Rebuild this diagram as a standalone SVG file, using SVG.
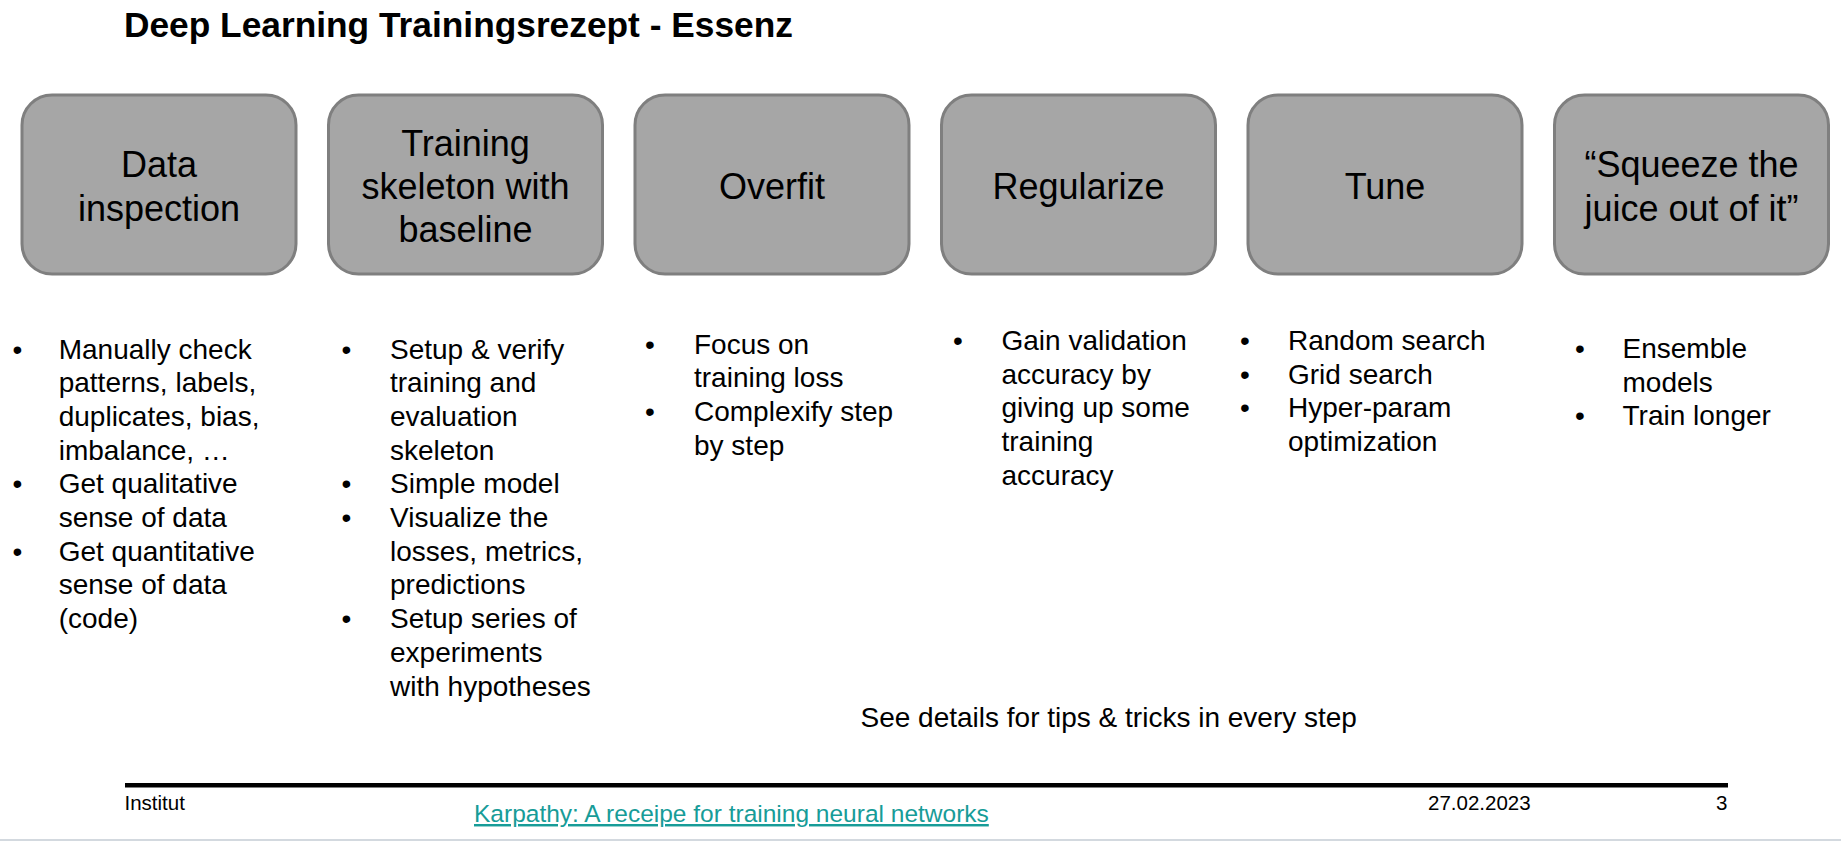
<svg xmlns="http://www.w3.org/2000/svg" width="1841" height="841" viewBox="0 0 1841 841">
<style>
text{font-family:"Liberation Sans",Arial,Helvetica,sans-serif;fill:#000}
.title{font-size:35.3px;font-weight:bold}
.box{fill:#a6a6a6;stroke:#7f7f7f;stroke-width:3}
.bl{font-size:36px;text-anchor:middle}
.bt{font-size:28px}
.bu{font-size:28px;text-anchor:middle}
.ft{font-size:20.5px}
.lnk{font-size:24.5px;fill:#179c98;text-decoration:underline}
</style>
<rect width="1841" height="841" fill="#ffffff"/>
<text class="title" x="124" y="37">Deep Learning Trainingsrezept - Essenz</text>

<g id="node-data-inspection">
<rect class="box" x="22" y="95" width="274" height="179" rx="30" ry="30"/>
<text class="bl" x="159" y="177.4">Data</text>
<text class="bl" x="159" y="220.6">inspection</text>
</g>
<g id="node-training-skeleton">
<rect class="box" x="328.5" y="95" width="274" height="179" rx="30" ry="30"/>
<text class="bl" x="465.5" y="155.8">Training</text>
<text class="bl" x="465.5" y="199">skeleton with</text>
<text class="bl" x="465.5" y="242.2">baseline</text>
</g>
<g id="node-overfit">
<rect class="box" x="635" y="95" width="274" height="179" rx="30" ry="30"/>
<text class="bl" x="772" y="199">Overfit</text>
</g>
<g id="node-regularize">
<rect class="box" x="941.5" y="95" width="274" height="179" rx="30" ry="30"/>
<text class="bl" x="1078.5" y="199">Regularize</text>
</g>
<g id="node-tune">
<rect class="box" x="1248" y="95" width="274" height="179" rx="30" ry="30"/>
<text class="bl" x="1385" y="199">Tune</text>
</g>
<g id="node-squeeze">
<rect class="box" x="1554.5" y="95" width="274" height="179" rx="30" ry="30"/>
<text class="bl" x="1691.5" y="177.4">“Squeeze the</text>
<text class="bl" x="1691.5" y="220.6">juice out of it”</text>
</g>

<g id="connectors"></g>

<g id="list-data-inspection">
<text class="bu" x="17.5" y="358.5">•</text>
<text class="bt" x="58.7" y="358.5">Manually check</text>
<text class="bt" x="58.7" y="392.2">patterns, labels,</text>
<text class="bt" x="58.7" y="425.9">duplicates, bias,</text>
<text class="bt" x="58.7" y="459.6">imbalance, …</text>
<text class="bu" x="17.5" y="493.3">•</text>
<text class="bt" x="58.7" y="493.3">Get qualitative</text>
<text class="bt" x="58.7" y="527">sense of data</text>
<text class="bu" x="17.5" y="560.7">•</text>
<text class="bt" x="58.7" y="560.7">Get quantitative</text>
<text class="bt" x="58.7" y="594.4">sense of data</text>
<text class="bt" x="58.7" y="628.1">(code)</text>
</g>

<g id="list-training-skeleton">
<text class="bu" x="346.5" y="358.5">•</text>
<text class="bt" x="390" y="358.5">Setup &amp; verify</text>
<text class="bt" x="390" y="392.2">training and</text>
<text class="bt" x="390" y="425.9">evaluation</text>
<text class="bt" x="390" y="459.6">skeleton</text>
<text class="bu" x="346.5" y="493.3">•</text>
<text class="bt" x="390" y="493.3">Simple model</text>
<text class="bu" x="346.5" y="527">•</text>
<text class="bt" x="390" y="527">Visualize the</text>
<text class="bt" x="390" y="560.7">losses, metrics,</text>
<text class="bt" x="390" y="594.4">predictions</text>
<text class="bu" x="346.5" y="628.1">•</text>
<text class="bt" x="390" y="628.1">Setup series of</text>
<text class="bt" x="390" y="661.8">experiments</text>
<text class="bt" x="390" y="695.5">with hypotheses</text>
</g>

<g id="list-overfit">
<text class="bu" x="650" y="353.5">•</text>
<text class="bt" x="694" y="353.5">Focus on</text>
<text class="bt" x="694" y="387.2">training loss</text>
<text class="bu" x="650" y="420.9">•</text>
<text class="bt" x="694" y="420.9">Complexify step</text>
<text class="bt" x="694" y="454.6">by step</text>
</g>

<g id="list-regularize">
<text class="bu" x="958" y="350">•</text>
<text class="bt" x="1001.5" y="350">Gain validation</text>
<text class="bt" x="1001.5" y="383.7">accuracy by</text>
<text class="bt" x="1001.5" y="417.4">giving up some</text>
<text class="bt" x="1001.5" y="451.1">training</text>
<text class="bt" x="1001.5" y="484.8">accuracy</text>
</g>

<g id="list-tune">
<text class="bu" x="1245" y="350">•</text>
<text class="bt" x="1288" y="350">Random search</text>
<text class="bu" x="1245" y="383.7">•</text>
<text class="bt" x="1288" y="383.7">Grid search</text>
<text class="bu" x="1245" y="417.4">•</text>
<text class="bt" x="1288" y="417.4">Hyper-param</text>
<text class="bt" x="1288" y="451.1">optimization</text>
</g>

<g id="list-squeeze">
<text class="bu" x="1580" y="358">•</text>
<text class="bt" x="1622.5" y="358">Ensemble</text>
<text class="bt" x="1622.5" y="391.7">models</text>
<text class="bu" x="1580" y="425.4">•</text>
<text class="bt" x="1622.5" y="425.4">Train longer</text>
</g>

<text class="bt" x="860.5" y="727">See details for tips &amp; tricks in every step</text>

<g id="footer">
<rect x="125" y="783" width="1603" height="4.5" fill="#000"/>
<text class="ft" x="124.5" y="810">Institut</text>
<text class="lnk" x="474" y="822">Karpathy: A receipe for training neural networks</text>
<text class="ft" x="1428" y="810">27.02.2023</text>
<text class="ft" x="1727.5" y="810" text-anchor="end">3</text>
<rect x="0" y="839" width="1841" height="2" fill="#d3d9df"/>
</g>
</svg>
